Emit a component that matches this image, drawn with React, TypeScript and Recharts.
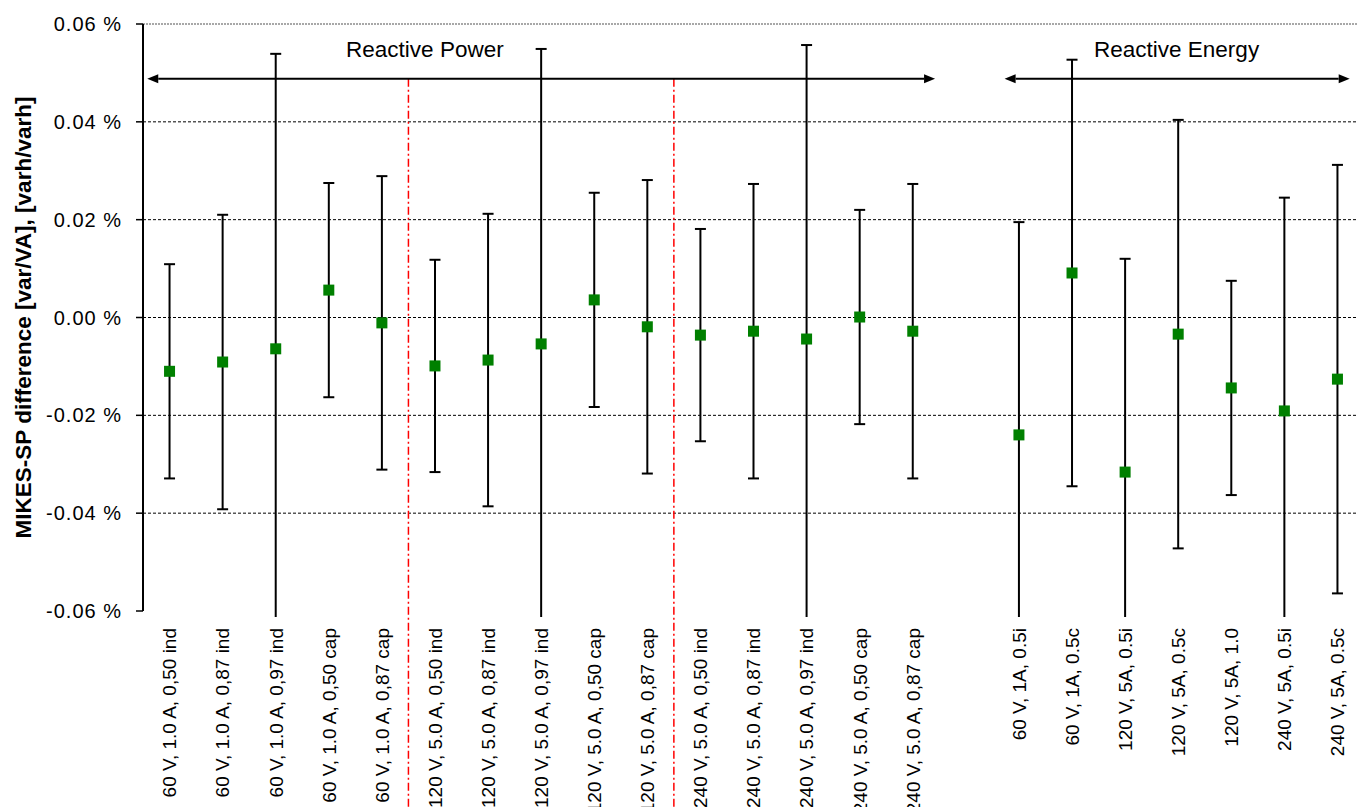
import React from "react";
import {
  ComposedChart,
  Scatter,
  ErrorBar,
  XAxis,
  YAxis,
  CartesianGrid,
  ReferenceLine,
  ReferenceDot,
  Label,
} from "recharts";

// one slot per measurement point, slot 15 is the empty gap between the two groups
const labels = [
  "60 V, 1.0 A, 0,50 ind",
  "60 V, 1.0 A, 0,87 ind",
  "60 V, 1.0 A, 0,97 ind",
  "60 V, 1.0 A, 0,50 cap",
  "60 V, 1.0 A, 0,87 cap",
  "120 V, 5.0 A, 0,50 ind",
  "120 V, 5.0 A, 0,87 ind",
  "120 V, 5.0 A, 0,97 ind",
  "120 V, 5.0 A, 0,50 cap",
  "120 V, 5.0 A, 0,87 cap",
  "240 V, 5.0 A, 0,50 ind",
  "240 V, 5.0 A, 0,87 ind",
  "240 V, 5.0 A, 0,97 ind",
  "240 V, 5.0 A, 0,50 cap",
  "240 V, 5.0 A, 0,87 cap",
  "",
  "60 V, 1A, 0.5i",
  "60 V, 1A, 0.5c",
  "120 V, 5A, 0.5i",
  "120 V, 5A, 0.5c",
  "120 V, 5A, 1.0",
  "240 V, 5A, 0.5i",
  "240 V, 5A, 0.5c",
];

// difference in %
const diffs = [
  -0.011, -0.0091, -0.0064, 0.0056, -0.0011,
  -0.0099, -0.0087, -0.0054, 0.0036, -0.0019,
  -0.0036, -0.0028, -0.0044, 0.0001, -0.0028,
  null,
  -0.024, 0.0091, -0.0316, -0.0034, -0.0144, -0.0191, -0.0126,
];

// expanded uncertainty (half length of the bar), %
const uncert = [
  0.0219, 0.0301, 0.0603, 0.0219, 0.03,
  0.0217, 0.0299, 0.0603, 0.0219, 0.03,
  0.0217, 0.0301, 0.0601, 0.0219, 0.0301,
  null,
  0.0435, 0.0436, 0.0436, 0.0438, 0.0219, 0.0436, 0.0438,
];

const yTicks = [-0.06, -0.04, -0.02, 0, 0.02, 0.04, 0.06];
const gridValues = [-0.04, -0.02, 0, 0.02, 0.04];
const groupBreaks = [5, 10];

const FONT = "'Liberation Sans', Arial, sans-serif";
const nSlots = labels.length;

const W = 1365;
const H = 807;
const TOP = 24;
const Y_AXIS_W = 143;
const X_AXIS_H = 196;
const RIGHT = 1;

const rows = diffs
  .map((d, i) => (d === null ? null : { x: i + 0.5, y: d, err: uncert[i] }))
  .filter((r) => r !== null);

const labelTicks = labels.map((l, i) => (l ? i + 0.5 : null)).filter((v) => v !== null);
const slotEdges = Array.from({ length: nSlots + 1 }, (_, i) => i);

function CategoryTick(props: any) {
  const { x, y, payload } = props;
  const text = labels[Math.floor(payload.value)];
  return (
    <text
      x={x}
      y={y}
      transform={`rotate(-90 ${x} ${y})`}
      textAnchor="end"
      dy="0.36em"
      fontSize={19}
      fontFamily={FONT}
      fill="#000"
    >
      {text}
    </text>
  );
}

function Square(props: any) {
  const { cx, cy } = props;
  return <rect x={cx - 5.5} y={cy - 5.5} width={11} height={11} fill="#008000" />;
}

function DoubleArrow(props: any) {
  const { x1, y1, x2, y2 } = props;
  const h = 11;
  const w = 4.5;
  return (
    <g>
      <line x1={x1 + h} y1={y1} x2={x2 - h} y2={y2} stroke="#000" strokeWidth={2} />
      <polygon points={`${x1},${y1} ${x1 + h},${y1 - w} ${x1 + h},${y1 + w}`} fill="#000" />
      <polygon points={`${x2},${y2} ${x2 - h},${y2 - w} ${x2 - h},${y2 + w}`} fill="#000" />
    </g>
  );
}

function YTitle(props: any) {
  const { viewBox } = props;
  const cx = viewBox.x + 23;
  const cy = viewBox.y + viewBox.height / 2;
  return (
    <text
      x={cx}
      y={cy}
      transform={`rotate(-90 ${cx} ${cy})`}
      textAnchor="middle"
      dominantBaseline="central"
      fontSize={22.5}
      fontWeight="bold"
      fontFamily={FONT}
      fill="#000"
    >
      MIKES-SP difference [var/VA], [varh/varh]
    </text>
  );
}

export default function App() {
  return (
    <div
      style={{
        position: "absolute",
        left: 0,
        top: 0,
        width: 1357,
        height: 807,
        overflow: "hidden",
        background: "#fff",
      }}
    >
      <ComposedChart width={W} height={H} margin={{ top: TOP, right: RIGHT, bottom: 0, left: 0 }}>
        <defs>
          <clipPath id="errClip">
            {/* bars run a few px past the bottom axis, like the original */}
            <rect x={Y_AXIS_W} y={TOP - 2} width={W - RIGHT - Y_AXIS_W} height={H - X_AXIS_H - TOP + 8} />
          </clipPath>
        </defs>
        <CartesianGrid
          vertical={false}
          horizontalValues={gridValues}
          stroke="#000"
          strokeDasharray="3 2"
          strokeWidth={1}
          yAxisId="v"
          xAxisId="edge"
        />
        <XAxis
          xAxisId="edge"
          type="number"
          domain={[0, nSlots]}
          ticks={slotEdges}
          interval={0}
          mirror
          height={0}
          tick={false}
          tickSize={6}
          tickLine={{ stroke: "#000", strokeWidth: 1.5 }}
          axisLine={{ stroke: "#000", strokeWidth: 2 }}
        />
        <XAxis
          xAxisId="cat"
          type="number"
          dataKey="x"
          domain={[0, nSlots]}
          ticks={labelTicks}
          interval={0}
          allowDataOverflow
          height={X_AXIS_H}
          tickLine={false}
          axisLine={false}
          tickSize={6}
          tickMargin={11}
          tick={<CategoryTick />}
        />
        <YAxis
          yAxisId="v"
          type="number"
          domain={[-0.06, 0.06]}
          ticks={yTicks}
          interval={0}
          allowDataOverflow
          width={Y_AXIS_W}
          tickSize={7}
          tickMargin={14}
          tickFormatter={(v: number) => `${v.toFixed(2)} %`}
          tick={{ fontSize: 20, fill: "#000", fontFamily: FONT, letterSpacing: 1 }}
          tickLine={{ stroke: "#000", strokeWidth: 1.5 }}
          axisLine={{ stroke: "#000", strokeWidth: 2 }}
        >
          <Label content={<YTitle />} />
        </YAxis>

        <ReferenceLine
          yAxisId="v"
          xAxisId="cat"
          y={0.06}
          stroke="#8c8c8c"
          strokeWidth={1.5}
          strokeDasharray="2 1"
        />

        {groupBreaks.map((b) => (
          <ReferenceLine
            key={b}
            yAxisId="v"
            xAxisId="cat"
            segment={[
              { x: b, y: 0.0488 },
              { x: b, y: -0.1 },
            ]}
            ifOverflow="visible"
            stroke="#ff0000"
            strokeWidth={1.5}
            strokeDasharray="8 3 2 3"
          />
        ))}

        <ReferenceLine
          yAxisId="v"
          xAxisId="cat"
          segment={[
            { x: 0.08, y: 0.0488 },
            { x: 14.92, y: 0.0488 },
          ]}
          shape={<DoubleArrow />}
        />
        <ReferenceLine
          yAxisId="v"
          xAxisId="cat"
          segment={[
            { x: 16.23, y: 0.0488 },
            { x: 22.73, y: 0.0488 },
          ]}
          shape={<DoubleArrow />}
        />
        <ReferenceDot
          yAxisId="v"
          xAxisId="cat"
          x={5.31}
          y={0.0549}
          r={0}
          fill="none"
          stroke="none"
          label={{ value: "Reactive Power", position: "center", fontSize: 22.5, fill: "#000", fontFamily: FONT }}
        />
        <ReferenceDot
          yAxisId="v"
          xAxisId="cat"
          x={19.47}
          y={0.0549}
          r={0}
          fill="none"
          stroke="none"
          label={{ value: "Reactive Energy", position: "center", fontSize: 22.5, fill: "#000", fontFamily: FONT }}
        />

        <Scatter
          data={rows}
          xAxisId="cat"
          yAxisId="v"
          dataKey="y"
          shape={<Square />}
          isAnimationActive={false}
        >
          <ErrorBar
            dataKey="err"
            direction="y"
            width={5.5}
            stroke="#000"
            strokeWidth={2}
            clipPath="url(#errClip)"
            isAnimationActive={false}
          />
        </Scatter>
      </ComposedChart>
    </div>
  );
}
